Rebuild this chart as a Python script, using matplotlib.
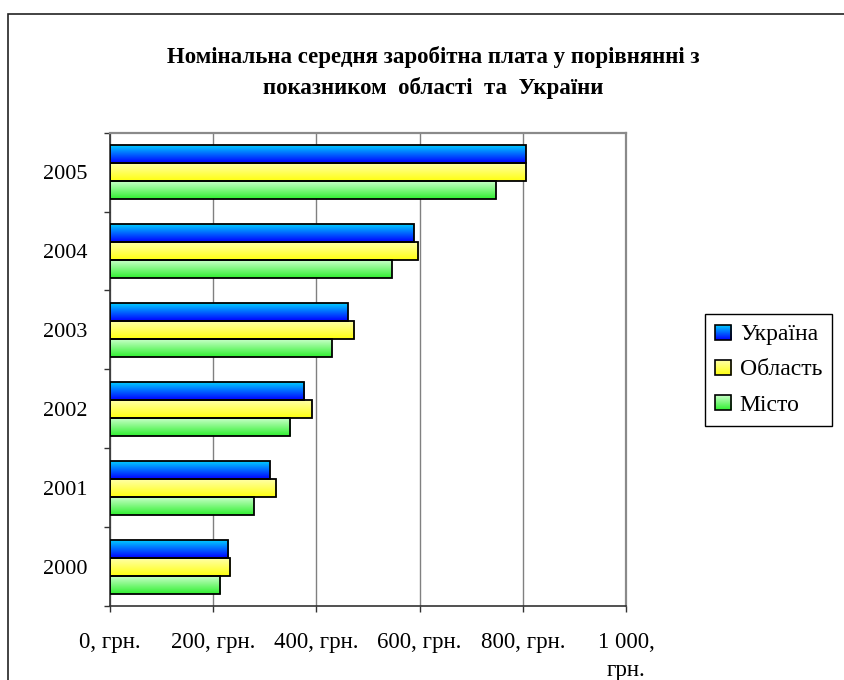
import numpy as np
import matplotlib
matplotlib.use('Agg')
import matplotlib.pyplot as plt
from matplotlib.colors import LinearSegmentedColormap
from matplotlib.patches import Rectangle
from matplotlib.legend_handler import HandlerBase
from matplotlib.image import BboxImage
from matplotlib.transforms import Bbox, TransformedBbox

plt.rcParams['font.family'] = ['Liberation Serif', 'DejaVu Serif']

# Data (грн.)
years = ['2000', '2001', '2002', '2003', '2004', '2005']
ukraine = [229, 310, 376, 461, 589, 806]
oblast = [233, 322, 391, 473, 597, 806]
misto = [214, 279, 349, 430, 546, 748]
series_names = ['Україна', 'Область', 'Місто']
x_ticks = [0, 200, 400, 600, 800, 1000]
x_labels = ['0, грн.', '200, грн.', '400, грн.', '600, грн.', '800, грн.', '1 000,\nгрн.']
title = 'Номінальна середня заробітна плата у порівнянні з\nпоказником  області  та  України'

# gradients: bottom colour -> top colour
cmaps = [
    LinearSegmentedColormap.from_list('ua', ['#0000ff', '#00ccff']),
    LinearSegmentedColormap.from_list('obl', ['#ffff10', '#ffffa8']),
    LinearSegmentedColormap.from_list('mis', ['#30f030', '#c8ffc8']),
]
grad = np.linspace(0, 1, 64).reshape(-1, 1)


class GradHandler(HandlerBase):
    def __init__(self, cmap):
        super().__init__()
        self.cmap = cmap

    def create_artists(self, legend, orig_handle, xdescent, ydescent,
                       width, height, fontsize, trans):
        bb = TransformedBbox(Bbox.from_bounds(-xdescent, -ydescent, width, height), trans)
        img = BboxImage(bb, cmap=self.cmap, origin='lower', interpolation='bilinear')
        img.set_data(grad)
        rect = Rectangle((-xdescent, -ydescent), width, height, facecolor='none',
                         edgecolor='black', linewidth=1.2, transform=trans)
        return [img, rect]


fig = plt.figure(figsize=(8.44, 6.80), dpi=100)
ax = fig.add_axes([110 / 844, 1 - 606 / 680, 516 / 844, (606 - 132.7) / 680])

# outer chart border
fig.patches.append(Rectangle((8 / 844, -0.1), 1.2, 1 - 14 / 680 + 0.1, transform=fig.transFigure,
                             facecolor='none', edgecolor='#222222', linewidth=1.2))

h = 0.228
ypos = np.arange(len(years))
handles = []
for j, vals in enumerate([ukraine, oblast, misto]):
    yc = ypos + (1 - j) * h
    for y, v in zip(yc, vals):
        ax.imshow(grad, cmap=cmaps[j], origin='lower', aspect='auto', interpolation='bilinear',
                  extent=[0, v, y - h / 2, y + h / 2], zorder=2)
    b = ax.barh(yc, vals, height=h, facecolor='none', edgecolor='black', linewidth=1.3, zorder=3)
    handles.append(b)

ax.set_xlim(0, 1000)
ax.set_ylim(-0.5, len(years) - 0.5)

ax.set_xticks(x_ticks)
ax.set_xticklabels(x_labels, fontsize=16.5, linespacing=1.45)
ax.tick_params(axis='x', direction='out', length=4.5, width=1, color='#333333', pad=14)
ax.set_yticks(ypos)
ax.set_yticklabels(years, fontsize=16)
ax.tick_params(axis='y', which='major', length=0, pad=16)
ax.set_yticks(np.arange(-0.5, len(years)), minor=True)
ax.tick_params(axis='y', which='minor', direction='out', length=4.5, width=1, color='#333333')

ax.xaxis.grid(True, color='#808080', linewidth=1)
ax.set_axisbelow(True)
for s in ['top', 'right']:
    ax.spines[s].set_color('#8a8a8a')
    ax.spines[s].set_linewidth(1.6)
for s in ['left', 'bottom']:
    ax.spines[s].set_color('#333333')
    ax.spines[s].set_linewidth(1.2)

fig.text(433 / 844, 1 - 72.5 / 680, title, ha='center', va='center', fontsize=16.5,
         fontweight='bold', linespacing=1.5)

leg = fig.legend(handles, series_names, loc='center left', bbox_to_anchor=(705 / 844, 1 - 370 / 680),
                 fontsize=17, frameon=True, fancybox=False, edgecolor='black', framealpha=1,
                 handlelength=0.7, handleheight=0.6, handletextpad=0.35, labelspacing=0.6,
                 borderpad=0.42, borderaxespad=0,
                 handler_map={handles[i]: GradHandler(cmaps[i]) for i in range(3)})
leg.get_frame().set_linewidth(1.0)

fig.savefig('out.png', dpi=100)
